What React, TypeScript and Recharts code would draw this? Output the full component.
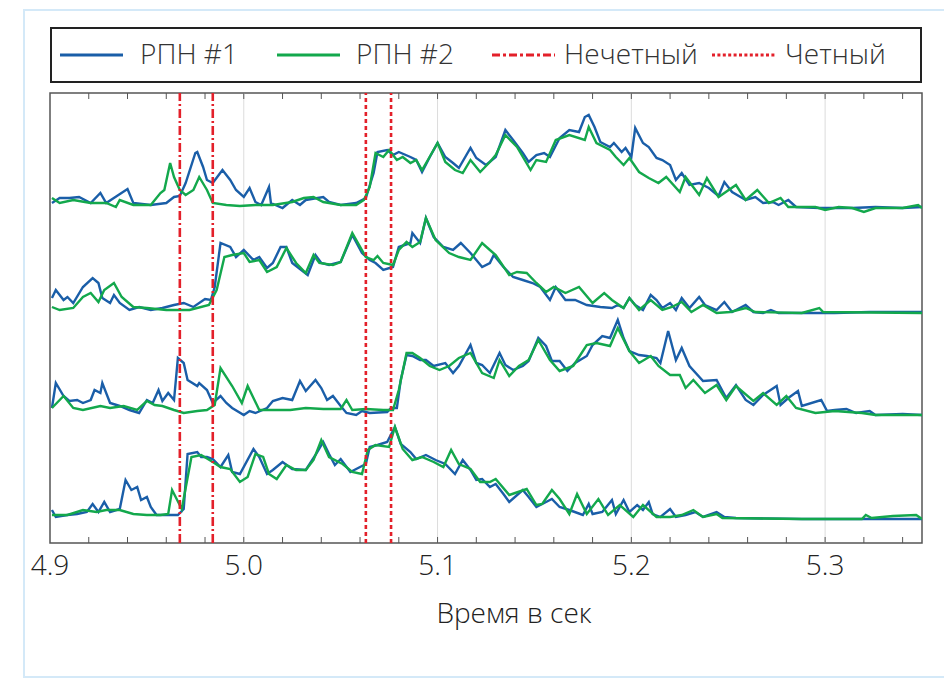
import { LineChart, Line, XAxis, YAxis, ReferenceLine, ReferenceArea } from 'recharts';

type Pt = [number, number];

// time (s), amplitude above each trace's own baseline
const blue1: Pt[] = [
  [4.901,2],[4.905,7],[4.910,7],[4.915,8],[4.921,2],[4.926,12],[4.929,2],[4.940,16],[4.943,2],[4.952,0],[4.960,2],[4.964,8],[4.967,9],[4.970,22],[4.975,52],[4.976,53],[4.979,38],[4.981,25],[4.984,22],[4.989,35],[4.993,25],[4.996,15],[5.000,8],[5.003,17],[5.006,3],[5.009,0],[5.013,18],[5.014,2],[5.020,-3],[5.025,5],[5.029,0],[5.032,5],[5.041,8],[5.044,3],[5.050,0],[5.058,2],[5.063,7],[5.067,32],[5.069,53],[5.074,55],[5.077,50],[5.080,53],[5.086,48],[5.089,45],[5.092,33],[5.096,48],[5.100,62],[5.104,48],[5.108,42],[5.111,37],[5.117,57],[5.120,47],[5.125,40],[5.130,48],[5.135,75],[5.139,65],[5.144,52],[5.147,43],[5.151,50],[5.155,52],[5.158,48],[5.163,67],[5.168,75],[5.173,73],[5.176,88],[5.178,90],[5.181,78],[5.184,63],[5.189,58],[5.191,62],[5.195,53],[5.197,57],[5.200,48],[5.202,77],[5.206,62],[5.209,58],[5.213,47],[5.216,45],[5.220,40],[5.223,25],[5.226,32],[5.230,20],[5.235,22],[5.240,17],[5.245,9],[5.248,23],[5.252,13],[5.259,5],[5.264,8],[5.268,2],[5.273,3],[5.276,0],[5.281,5],[5.285,-2],[5.297,-3],[5.305,-3],[5.314,-3],[5.326,-2],[5.340,-3],[5.350,-2],
];
const green1: Pt[] = [
  [4.901,7],[4.905,2],[4.912,5],[4.921,2],[4.929,2],[4.934,-2],[4.936,5],[4.943,0],[4.952,0],[4.957,12],[4.959,15],[4.962,42],[4.964,28],[4.967,15],[4.970,10],[4.974,15],[4.977,28],[4.981,15],[4.984,2],[4.991,0],[4.998,-1],[5.006,0],[5.015,0],[5.025,3],[5.031,7],[5.036,8],[5.041,3],[5.050,0],[5.058,0],[5.062,5],[5.065,18],[5.068,52],[5.072,48],[5.075,55],[5.079,45],[5.082,48],[5.086,42],[5.089,45],[5.092,35],[5.095,45],[5.100,62],[5.104,43],[5.109,35],[5.113,32],[5.117,45],[5.122,33],[5.127,43],[5.130,50],[5.135,70],[5.141,58],[5.148,35],[5.151,45],[5.156,43],[5.161,65],[5.168,70],[5.176,65],[5.178,78],[5.182,62],[5.189,55],[5.192,48],[5.196,40],[5.199,47],[5.204,33],[5.209,27],[5.214,22],[5.218,28],[5.225,13],[5.228,28],[5.235,10],[5.239,27],[5.245,8],[5.254,20],[5.259,5],[5.265,15],[5.271,2],[5.277,7],[5.281,-2],[5.288,-2],[5.295,-2],[5.300,-5],[5.307,-2],[5.314,-3],[5.320,-7],[5.326,-3],[5.340,-3],[5.348,0],[5.350,-3],
];
const blue2: Pt[] = [
  [4.901,12],[4.903,20],[4.907,10],[4.909,13],[4.912,7],[4.917,23],[4.922,32],[4.925,27],[4.927,12],[4.931,7],[4.933,15],[4.936,7],[4.941,0],[4.946,3],[4.952,0],[4.958,2],[4.964,5],[4.969,7],[4.974,3],[4.980,11],[4.983,10],[4.985,23],[4.988,67],[4.993,63],[4.996,53],[5.000,60],[5.005,50],[5.008,53],[5.012,42],[5.015,47],[5.019,63],[5.022,63],[5.025,47],[5.031,38],[5.033,35],[5.037,55],[5.040,47],[5.044,45],[5.050,48],[5.056,75],[5.061,57],[5.065,50],[5.068,47],[5.072,40],[5.077,43],[5.080,63],[5.086,67],[5.087,77],[5.091,67],[5.094,92],[5.098,73],[5.103,63],[5.108,60],[5.112,67],[5.117,57],[5.120,50],[5.123,43],[5.127,47],[5.129,55],[5.134,43],[5.139,33],[5.144,30],[5.149,27],[5.153,23],[5.158,10],[5.161,23],[5.166,10],[5.171,10],[5.177,5],[5.184,3],[5.190,2],[5.193,5],[5.196,2],[5.199,12],[5.202,5],[5.206,0],[5.210,15],[5.213,10],[5.216,2],[5.220,7],[5.223,0],[5.226,12],[5.230,2],[5.235,13],[5.238,5],[5.244,0],[5.248,8],[5.252,-2],[5.259,5],[5.263,-2],[5.268,-3],[5.272,0],[5.276,-3],[5.288,-3],[5.305,-3],[5.323,-2],[5.350,-2],
];
const green2: Pt[] = [
  [4.901,3],[4.905,0],[4.912,2],[4.917,13],[4.921,17],[4.925,8],[4.928,20],[4.933,27],[4.937,13],[4.943,3],[4.950,2],[4.960,0],[4.972,0],[4.982,5],[4.986,20],[4.990,53],[4.994,55],[5.000,57],[5.003,48],[5.008,50],[5.012,38],[5.017,43],[5.022,62],[5.027,47],[5.032,37],[5.036,55],[5.039,47],[5.046,45],[5.050,48],[5.056,77],[5.063,53],[5.067,50],[5.069,54],[5.072,47],[5.077,45],[5.080,60],[5.084,68],[5.087,63],[5.091,68],[5.094,92],[5.099,70],[5.106,57],[5.111,53],[5.117,50],[5.123,67],[5.127,60],[5.130,55],[5.137,35],[5.141,38],[5.146,37],[5.151,27],[5.156,18],[5.160,23],[5.166,17],[5.173,23],[5.180,7],[5.186,17],[5.190,10],[5.196,2],[5.199,12],[5.204,0],[5.210,10],[5.216,0],[5.221,3],[5.226,8],[5.231,-2],[5.237,5],[5.244,-3],[5.251,-2],[5.259,2],[5.264,-2],[5.288,-3],[5.297,2],[5.299,-2],[5.350,-3],
];
const blue3: Pt[] = [
  [4.901,5],[4.903,30],[4.907,17],[4.910,12],[4.914,13],[4.917,10],[4.921,13],[4.923,23],[4.926,20],[4.927,30],[4.931,10],[4.936,7],[4.941,3],[4.946,0],[4.950,13],[4.953,10],[4.956,23],[4.958,12],[4.961,20],[4.964,13],[4.966,55],[4.969,50],[4.971,33],[4.976,27],[4.977,30],[4.981,23],[4.984,10],[4.988,17],[4.991,10],[4.994,5],[5.000,-2],[5.003,2],[5.006,0],[5.012,5],[5.015,12],[5.020,15],[5.025,13],[5.029,32],[5.032,22],[5.037,33],[5.040,25],[5.043,13],[5.046,17],[5.050,7],[5.053,0],[5.058,-2],[5.061,2],[5.065,0],[5.074,1],[5.076,5],[5.079,5],[5.081,33],[5.084,58],[5.087,57],[5.091,53],[5.094,53],[5.098,47],[5.104,50],[5.108,40],[5.111,47],[5.117,68],[5.120,50],[5.123,48],[5.127,40],[5.132,60],[5.135,48],[5.139,43],[5.144,47],[5.147,52],[5.152,75],[5.156,67],[5.159,52],[5.163,52],[5.167,42],[5.171,50],[5.177,57],[5.180,68],[5.185,77],[5.189,75],[5.193,93],[5.196,75],[5.199,62],[5.204,58],[5.208,57],[5.213,55],[5.215,50],[5.219,82],[5.223,53],[5.226,65],[5.230,47],[5.237,32],[5.244,33],[5.249,15],[5.254,28],[5.259,13],[5.263,8],[5.268,18],[5.275,27],[5.277,8],[5.281,15],[5.286,22],[5.288,7],[5.298,13],[5.301,2],[5.305,3],[5.311,4],[5.316,0],[5.323,2],[5.326,-2],[5.340,-1],[5.350,-2],
];
const green3: Pt[] = [
  [4.901,5],[4.907,17],[4.912,5],[4.917,3],[4.926,7],[4.931,5],[4.938,7],[4.945,3],[4.950,12],[4.954,8],[4.958,7],[4.964,3],[4.969,0],[4.976,2],[4.981,3],[4.985,8],[4.988,45],[4.994,27],[4.999,10],[5.002,27],[5.005,15],[5.008,3],[5.015,3],[5.024,3],[5.032,5],[5.041,4],[5.050,4],[5.053,13],[5.056,3],[5.063,4],[5.072,3],[5.077,3],[5.080,23],[5.084,60],[5.087,60],[5.091,55],[5.096,47],[5.101,43],[5.106,47],[5.111,55],[5.117,60],[5.123,40],[5.129,35],[5.132,53],[5.137,37],[5.142,47],[5.147,53],[5.152,73],[5.158,53],[5.163,42],[5.170,47],[5.177,68],[5.182,70],[5.189,67],[5.193,85],[5.199,62],[5.204,50],[5.210,57],[5.214,47],[5.220,38],[5.225,38],[5.228,25],[5.232,33],[5.238,20],[5.244,28],[5.249,13],[5.254,27],[5.263,12],[5.268,20],[5.275,8],[5.280,17],[5.285,5],[5.295,0],[5.305,2],[5.319,0],[5.326,-2],[5.340,-2],[5.350,-2],
];
const blue4: Pt[] = [
  [4.901,7],[4.903,0],[4.909,2],[4.914,3],[4.919,5],[4.922,13],[4.925,5],[4.928,15],[4.931,5],[4.936,8],[4.939,37],[4.942,27],[4.945,30],[4.947,17],[4.950,20],[4.952,10],[4.955,2],[4.962,2],[4.966,2],[4.969,8],[4.971,63],[4.976,65],[4.978,60],[4.981,60],[4.984,58],[4.988,50],[4.992,62],[4.994,45],[4.998,43],[5.005,68],[5.008,60],[5.012,43],[5.015,47],[5.020,55],[5.025,48],[5.032,47],[5.037,62],[5.041,75],[5.044,63],[5.047,52],[5.050,58],[5.055,45],[5.060,50],[5.063,53],[5.065,70],[5.069,72],[5.074,75],[5.078,90],[5.081,73],[5.086,65],[5.089,58],[5.094,62],[5.099,57],[5.104,53],[5.109,43],[5.113,57],[5.117,47],[5.120,37],[5.123,38],[5.127,30],[5.130,33],[5.134,23],[5.137,15],[5.144,27],[5.147,20],[5.151,10],[5.156,15],[5.159,18],[5.163,10],[5.168,7],[5.175,2],[5.178,13],[5.180,3],[5.185,5],[5.190,17],[5.192,3],[5.196,17],[5.199,5],[5.203,12],[5.206,7],[5.209,15],[5.211,3],[5.215,0],[5.220,8],[5.223,0],[5.228,2],[5.233,5],[5.237,0],[5.244,5],[5.248,0],[5.254,-1],[5.288,-2],[5.319,-2],[5.350,-2],
];
const green4: Pt[] = [
  [4.901,2],[4.909,2],[4.917,7],[4.924,5],[4.929,7],[4.936,7],[4.943,3],[4.950,2],[4.957,2],[4.961,3],[4.963,27],[4.968,8],[4.973,60],[4.978,62],[4.984,55],[4.988,50],[4.993,48],[4.998,35],[5.002,40],[5.006,63],[5.010,60],[5.013,43],[5.017,38],[5.022,52],[5.027,47],[5.032,47],[5.036,57],[5.040,77],[5.044,60],[5.051,53],[5.056,45],[5.061,43],[5.064,67],[5.068,72],[5.075,70],[5.078,90],[5.082,68],[5.087,57],[5.092,60],[5.098,55],[5.103,50],[5.107,67],[5.111,53],[5.117,48],[5.122,35],[5.127,35],[5.130,38],[5.137,22],[5.146,28],[5.151,12],[5.154,13],[5.159,27],[5.163,18],[5.168,3],[5.172,23],[5.177,3],[5.183,18],[5.188,2],[5.194,12],[5.201,0],[5.206,12],[5.213,0],[5.220,0],[5.226,2],[5.232,7],[5.237,0],[5.244,3],[5.247,-1],[5.288,-2],[5.319,-2],[5.321,2],[5.324,-1],[5.335,1],[5.347,2],[5.350,-2],
];

const blueSeries = [blue1, blue2, blue3, blue4];
const greenSeries = [green1, green2, green3, green4];
// vertical shift of each stacked trace
const traceOffsets = [338, 233, 130, 26];

const oddMarks = [4.967, 4.984]; // Нечетный
const evenMarks = [5.063, 5.076]; // Четный

const majorTicks = [4.9, 5.0, 5.1, 5.2, 5.3];
const gridTicks = [5.0, 5.1, 5.2, 5.3];
const allTicks = Array.from({ length: 23 }, (_, i) => Math.round((4.9 + i * 0.02) * 100) / 100);

const BLUE = '#1a5ea8';
const GREEN = '#13a84c';
const RED = '#e3202a';
const FONT = '"Open Sans", "Noto Sans", sans-serif';

const W = 944;
const H = 679;
const MARGIN = { top: 93, right: 22, bottom: 46, left: 50 };
const AXIS_H = 90;
const PLOT_TOP = MARGIN.top;
const PLOT_BOTTOM = H - MARGIN.bottom - AXIS_H;

const toPoints = (pts: Pt[], off: number) => pts.map(([t, a]) => ({ t, v: a + off }));

const legendItems = [
  { label: 'РПН #1', color: BLUE, dash: undefined, lineX: 10, textX: 90 },
  { label: 'РПН #2', color: GREEN, dash: undefined, lineX: 227, textX: 306 },
  { label: 'Нечетный', color: RED, dash: '8 3 3 3', lineX: 442, textX: 514 },
  { label: 'Четный', color: RED, dash: '3 2.4', lineX: 662, textX: 735 },
];

// inward tick marks on top and bottom edge, labels only on the majors
const AxisTick = (props: any) => {
  const { x, y, payload } = props;
  const v: number = payload.value;
  const major = majorTicks.some((m) => Math.abs(m - v) < 1e-6);
  return (
    <g>
      {v > 4.9001 && (
        <>
          <line x1={x} x2={x} y1={PLOT_BOTTOM} y2={PLOT_BOTTOM - 6} stroke="#555" strokeWidth={1} />
          <line x1={x} x2={x} y1={PLOT_TOP} y2={PLOT_TOP + 6} stroke="#555" strokeWidth={1} />
        </>
      )}
      {major && (
        <text x={x} y={y + 20} textAnchor="middle" fontSize={28} fill="#222" fontFamily={FONT} fontWeight={300}>
          {v.toFixed(1)}
        </text>
      )}
    </g>
  );
};

const App = () => {
  return (
    <div style={{ position: 'absolute', left: 0, top: 0, width: W, height: H, background: '#fff', overflow: 'hidden', fontFamily: FONT }}>
      <div style={{ position: 'absolute', left: 23, top: 9, width: 960, height: 665, border: '2px solid #d4e9f8' }} />

      <div style={{ position: 'absolute', left: 50, top: 27, width: 872, height: 56, boxSizing: 'border-box', border: '2px solid #222' }}>
        {legendItems.map((it) => (
          <div key={it.label}>
            <svg style={{ position: 'absolute', left: it.lineX - 2, top: 23 }} width={64} height={6}>
              <line x1={0} y1={3} x2={63} y2={3} stroke={it.color} strokeWidth={3.2} strokeDasharray={it.dash} />
            </svg>
            <span style={{ position: 'absolute', left: it.textX - 2, top: 5, fontSize: 28, fontWeight: 300, color: '#333', lineHeight: '38px', whiteSpace: 'nowrap' }}>
              {it.label}
            </span>
          </div>
        ))}
      </div>

      <div style={{ position: 'absolute', left: 0, top: 0 }}>
        <LineChart width={W} height={H} margin={MARGIN}>
          <XAxis
            xAxisId="main"
            type="number"
            dataKey="t"
            domain={[4.9, 5.35]}
            allowDataOverflow
            ticks={allTicks}
            interval={0}
            height={AXIS_H}
            axisLine={false}
            tickLine={false}
            tickSize={6}
            tickMargin={6}
            tick={<AxisTick />}
            label={{ value: 'Время в сек', position: 'insideBottom', offset: 10, dx: 28, fontSize: 28, fill: '#222', fontFamily: FONT, fontWeight: 300 }}
          />
          <YAxis type="number" domain={[0, 450]} allowDataOverflow hide />

          {gridTicks.map((x) => (
            <ReferenceLine key={`grid${x}`} xAxisId="main" x={x} stroke="#dcdcdc" strokeWidth={1} />
          ))}
          <ReferenceArea xAxisId="main" x1={4.9} x2={5.35} y1={0} y2={450} fill="none" stroke="#555" strokeWidth={1.5} />

          {blueSeries.map((s, i) => (
            <Line key={`b${i}`} xAxisId="main" data={toPoints(s, traceOffsets[i])} dataKey="v" type="linear" stroke={BLUE} strokeWidth={2.4} dot={false} isAnimationActive={false} />
          ))}
          {greenSeries.map((s, i) => (
            <Line key={`g${i}`} xAxisId="main" data={toPoints(s, traceOffsets[i])} dataKey="v" type="linear" stroke={GREEN} strokeWidth={2.4} dot={false} isAnimationActive={false} />
          ))}

          {oddMarks.map((x) => (
            <ReferenceLine key={x} xAxisId="main" x={x} stroke={RED} strokeWidth={2.6} strokeDasharray="9 3 2 3" />
          ))}
          {evenMarks.map((x) => (
            <ReferenceLine key={x} xAxisId="main" x={x} stroke={RED} strokeWidth={2.6} strokeDasharray="4 3" />
          ))}
        </LineChart>
      </div>
    </div>
  );
};

export default App;
